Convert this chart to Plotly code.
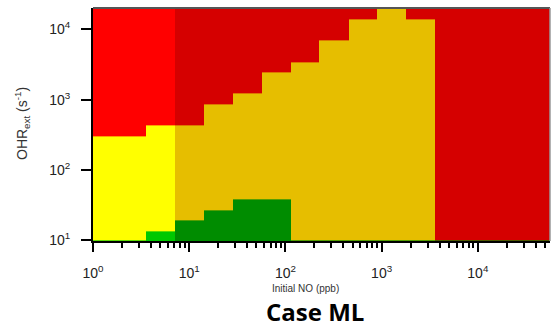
import plotly.graph_objects as go

# Initial NO column boundaries (ppb) of the regime map
no_edges = [1, 3.54, 7.07, 14.1, 28.3, 56.6, 113, 226, 453, 905, 1810, 3620, 60000]
# Upper OHR_ext limit (s^-1) of the low (green) regime in each column
green_top = [10, 13.4, 19, 26.9, 38, 38, 10, 10, 10, 10, 10, 10]
# Upper OHR_ext limit (s^-1) of the middle (yellow) regime in each column
yellow_top = [304, 430, 430, 860, 1216, 2432, 3440, 6880, 13760, 25000, 13760, 10]
# Colour family of each column: 0 = bright shades, 3 = dark shades
shade = [0, 0, 3, 3, 3, 3, 3, 3, 3, 3, 3, 3]

# Tick labels
x_tickvals = [1, 10, 100, 1000, 10000]
x_ticktext = ["10<sup>0</sup>", "10<sup>1</sup>", "10<sup>2</sup>", "10<sup>3</sup>", "10<sup>4</sup>"]
y_tickvals = [10, 100, 1000, 10000]
y_ticktext = ["10<sup>1</sup>", "10<sup>2</sup>", "10<sup>3</sup>", "10<sup>4</sup>"]

# OHR_ext cell boundaries follow the regime limits
ohr_edges = sorted(set([9.5] + green_top + yellow_top + [25000]))
ohr_edges = [v for v in ohr_edges if v >= 9.5]

z = []
for lo, hi in zip(ohr_edges[:-1], ohr_edges[1:]):
    mid = (lo * hi) ** 0.5
    row = []
    for g, yl, s in zip(green_top, yellow_top, shade):
        if mid < g:
            row.append(s + 0)
        elif mid < yl:
            row.append(s + 1)
        else:
            row.append(s + 2)
    z.append(row)

colors = ["#00C800", "#FFFF00", "#FF0000", "#008C00", "#E6BE00", "#D50000"]
n = len(colors)
colorscale = []
for i, c in enumerate(colors):
    colorscale.append([i / n, c])
    colorscale.append([(i + 1) / n, c])

fig = go.Figure(
    go.Heatmap(
        x=no_edges,
        y=ohr_edges,
        z=z,
        zmin=-0.5,
        zmax=n - 0.5,
        colorscale=colorscale,
        showscale=False,
        hoverinfo="skip",
    )
)

NARROW = "Liberation Sans Narrow, Arial Narrow, Liberation Sans, sans-serif"
tick_font = dict(family=NARROW, size=14, color="#222")

minor_x = [d * m for d in [1, 10, 100, 1000, 10000] for m in range(2, 10)]

fig.update_xaxes(
    type="log",
    range=[0, 4.75],
    tickmode="array",
    tickvals=x_tickvals,
    ticktext=x_ticktext,
    ticks="outside",
    ticklen=9,
    tickwidth=2,
    tickcolor="black",
    tickfont=tick_font,
    ticklabelstandoff=9,
    showline=True,
    linecolor="black",
    linewidth=2,
    showgrid=False,
    zeroline=False,
    minor=dict(tickmode="array", tickvals=minor_x, ticks="outside", ticklen=5,
               tickwidth=1.5, tickcolor="black", showgrid=False),
)
fig.update_yaxes(
    type="log",
    range=[0.99, 4.303],
    tickmode="array",
    tickvals=y_tickvals,
    ticktext=y_ticktext,
    ticks="outside",
    ticklen=10,
    tickwidth=2,
    tickcolor="black",
    tickfont=tick_font,
    ticklabelstandoff=8,
    showline=True,
    linecolor="black",
    linewidth=2,
    showgrid=False,
    zeroline=False,
)

W, H = 552, 330
L, R, T, B = 93, 2, 8, 89
pw, ph = W - L - R, H - T - B


def px(x):
    return (x - L) / pw


def py(y):
    return (H - B - y) / ph


fig.update_layout(
    width=W,
    height=H,
    margin=dict(l=L, r=R, t=T, b=B),
    paper_bgcolor="white",
    plot_bgcolor="white",
    showlegend=False,
    shapes=[
        dict(type="line", xref="paper", yref="paper", x0=0, x1=1, y0=1, y1=1,
             line=dict(color="#555", width=2)),
        dict(type="line", xref="paper", yref="paper", x0=1, x1=1, y0=0, y1=1,
             line=dict(color="#999", width=1.5)),
    ],
    annotations=[
        dict(text="OHR<sub>ext</sub> (s<sup>-1</sup>)", xref="paper", yref="paper",
             x=px(22), y=py(124), textangle=-90, showarrow=False,
             xanchor="center", yanchor="middle",
             font=dict(family="Liberation Sans, Arial, sans-serif", size=14, color="#333")),
        dict(text="Initial NO (ppb)", xref="paper", yref="paper",
             x=px(305), y=py(288), showarrow=False, xanchor="center", yanchor="middle",
             font=dict(family=NARROW, size=10, color="#333")),
        dict(text="<b>Case ML</b>", xref="paper", yref="paper",
             x=px(315), y=py(311), showarrow=False, xanchor="center", yanchor="middle",
             font=dict(family="Open Sans, sans-serif", size=24, color="black")),
    ],
)

fig.write_html("out.html")
